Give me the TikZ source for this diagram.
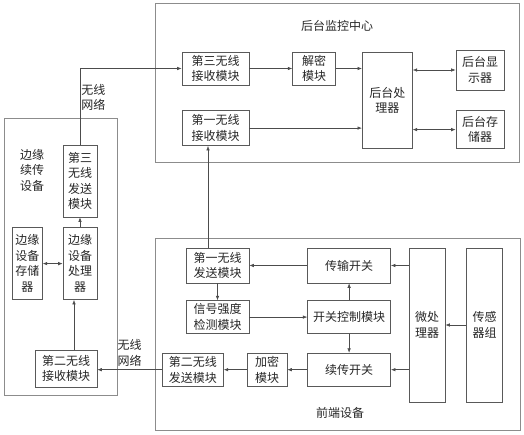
\documentclass[tikz,border=0pt]{standalone}
\usepackage{fontspec}
\newfontfamily\cjk{Noto Sans CJK SC}
\usetikzlibrary{arrows.meta,positioning}

\begin{document}
\begin{tikzpicture}[
  x=1pt, y=-1pt,
  font=\cjk\fontsize{12}{15.5}\selectfont,
  every node/.style={text=black!85},
  block/.style={draw=black!65, line width=0.6pt, align=center, inner sep=1pt},
  twoline/.style={block, minimum width=#1, minimum height=33pt},
  twoline/.default=67pt,
  tall/.style={block, minimum width=34pt, minimum height=72pt},
  arrow/.style={-{Latex[length=4.5pt,width=3.5pt]}, line width=0.6pt, draw=black!70},
  darrow/.style={{Latex[length=4.5pt,width=3.5pt]}-{Latex[length=4.5pt,width=3.5pt]}, line width=0.6pt, draw=black!70},
  frame/.style={draw=black!45, line width=0.5pt},
  label/.style={align=center, inner sep=1pt}
]
\useasboundingbox (0,0) rectangle (524,435);

% ===== backend monitoring centre =====
\draw[frame] (155,3) rectangle (519,162);
\node[label] (bctitle) at (337,26) {后台监控中心};

\node[twoline] (recv3) at (215.5,68.5) {第三无线\\接收模块};
\node[twoline=43pt, right=43pt of recv3] (decrypt) {解密\\模块};
\node[block, minimum width=50pt, minimum height=96pt, anchor=north west] (bproc) at (362,52) {后台处\\理器};
\node[block, minimum width=48pt, minimum height=40pt] (disp) at (480,70) {后台显\\示器};
\node[block, minimum width=48pt, minimum height=38pt, below=20pt of disp] (bstore) {后台存\\储器};
\node[twoline, minimum height=35pt, below=25pt of recv3] (recv1) {第一无线\\接收模块};

\draw[arrow] (recv3) -- (decrypt);
\draw[arrow] (decrypt.east) -- (decrypt.east -| bproc.west);
\draw[arrow] (recv1.east) -- (recv1.east -| bproc.west);
\draw[darrow] (disp.west -| bproc.east) -- (disp.west);
\draw[darrow] (bstore.west -| bproc.east) -- (bstore.west);

% ===== edge relay device =====
\draw[frame] (4,118) rectangle (117,395);
\node[label] (edgetitle) at (32,170) {边缘\\续传\\设备};

\node[tall] (send3) at (80,181) {第三\\无线\\发送\\模块};
\node[tall, below=10pt of send3] (eproc) {边缘\\设备\\处理\\器};
\node[tall, minimum width=30pt, left=20pt of eproc] (estore) {边缘\\设备\\存储\\器};
\node[block, minimum width=62pt, minimum height=37pt] (recv2) at (66,368.5) {第二无线\\接收模块};

\draw[arrow] (eproc) -- (send3);
\draw[darrow] (estore) -- (eproc);
\draw[arrow] ([xshift=8pt]recv2.north) -- ([xshift=8pt]recv2.north |- eproc.south);
\draw[arrow] (send3.north) |- node[pos=0.31, right, label]{无线\\网络} (recv3.west);

% ===== front-end device =====
\draw[frame] (155,238) rectangle (520,430);
\node[label] (fetitle) at (340,413) {前端设备};

\node[twoline=63pt, minimum height=35pt] (send1) at (217.5,265.5) {第一无线\\发送模块};
\node[twoline=63pt, below=17pt of send1] (detect) {信号强度\\检测模块};
\node[twoline=83pt, minimum height=35pt, right=58pt of send1] (tswitch) {传输开关};
\node[twoline=83pt, below=17pt of tswitch] (swctrl) {开关控制模块};
\node[twoline=83pt, below=19pt of swctrl] (cswitch) {续传开关};
\node[twoline=40pt, left=20pt of cswitch] (encrypt) {加密\\模块};
\node[twoline=61pt, left=23pt of encrypt] (send2) {第二无线\\发送模块};
\node[block, minimum width=36pt, minimum height=154pt] (mcu) at (427,325) {微处\\理器};
\node[block, minimum width=36pt, minimum height=154pt, right=21pt of mcu] (sensor) {传感\\器组};

\draw[arrow] (tswitch) -- (send1);
\draw[arrow] (send1) -- (detect);
\draw[arrow] (detect) -- (swctrl);
\draw[arrow] (swctrl) -- (tswitch);
\draw[arrow] (swctrl) -- (cswitch);
\draw[arrow] (mcu.west |- tswitch) -- (tswitch.east);
\draw[arrow] (mcu.west |- cswitch) -- (cswitch.east);
\draw[arrow] (sensor) -- (mcu);
\draw[arrow] (cswitch) -- (encrypt);
\draw[arrow] (encrypt) -- (send2);

% wireless links between units
\draw[arrow] (send2.west) -- node[above, label, yshift=2pt]{无线\\网络} (send2.west -| recv2.east);
\draw[arrow] ([xshift=-9.5pt]send1.north) -- ([xshift=-9.5pt]send1.north |- recv1.south);

\end{tikzpicture}
\end{document}
